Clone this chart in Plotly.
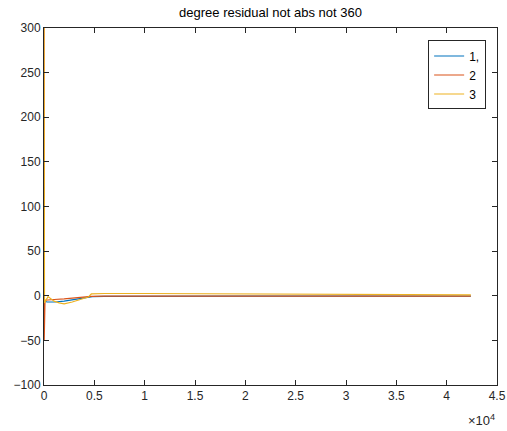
import plotly.graph_objects as go

# Residual series (degrees) against sample index
x1 = [0, 40, 300, 1100, 2000, 3000, 4000, 4800, 6000, 10000, 20000, 30000, 42400]
y1 = [122, -6, -7, -7, -6, -4.5, -2.5, -1, -0.8, -0.6, -0.5, -0.5, -0.5]

x2 = [0, 20, 100, 400, 1000, 2000, 3000, 4000, 4700, 6000, 10000, 20000, 30000, 42400]
y2 = [300, -50, -5, -4.5, -4.2, -3.5, -2.5, -1.5, -0.6, -0.5, -0.5, -0.5, -0.5, -0.5]

x3 = [0, 50, 400, 700, 1000, 1500, 2000, 2800, 3600, 4400, 4700, 6000, 10000, 20000, 30000, 42400]
y3 = [300, -8, -1, -4, -6, -8, -9, -7, -4, -1.5, 2, 2.5, 2.5, 2, 1.5, 1]

series_names = ["1,", "2", "3"]
colors = ["#0072BD", "#D95319", "#EDB120"]

x_ticks = [0, 5000, 10000, 15000, 20000, 25000, 30000, 35000, 40000, 45000]
x_tick_text = ["0", "0.5", "1", "1.5", "2", "2.5", "3", "3.5", "4", "4.5"]
y_ticks = [-100, -50, 0, 50, 100, 150, 200, 250, 300]

fig = go.Figure()
for xs, ys, name, c in zip([x1, x2, x3], [y1, y2, y3], series_names, colors):
    fig.add_trace(go.Scatter(x=xs, y=ys, mode="lines", name=name,
                             line=dict(color=c, width=1.2)))

axis_common = dict(
    showgrid=False, zeroline=False, showline=True, linecolor="#262626",
    linewidth=1, mirror="ticks", ticks="inside", ticklen=5,
    tickcolor="#262626", tickfont=dict(size=12, color="#262626"),
    automargin=False,
)

fig.update_xaxes(range=[0, 45000], tickvals=x_ticks, ticktext=x_tick_text,
                 **axis_common)
fig.update_yaxes(range=[-100, 300], tickvals=y_ticks, **axis_common)

fig.update_layout(
    width=507, height=431,
    margin=dict(l=44, r=10, t=28, b=46),
    paper_bgcolor="white", plot_bgcolor="white",
    font=dict(family="Liberation Sans, Arial, sans-serif", size=12, color="#262626"),
    title=dict(text="degree residual not abs not 360", x=0.5, xref="paper",
               y=1, yref="paper", yanchor="bottom", pad=dict(b=11),
               font=dict(size=13, color="#000000")),
    legend=dict(x=0.976, y=0.965, xanchor="right", yanchor="top",
                bordercolor="#262626", borderwidth=1, bgcolor="white",
                font=dict(size=12, color="#000000"),
                tracegroupgap=0, itemwidth=30),
    showlegend=True,
)

fig.add_annotation(text="×10<sup>4</sup>", x=1, xref="paper", y=-0.07,
                   yref="paper", xanchor="right", yanchor="top",
                   showarrow=False, font=dict(size=13, color="#262626"))

fig.write_html("out.html")
